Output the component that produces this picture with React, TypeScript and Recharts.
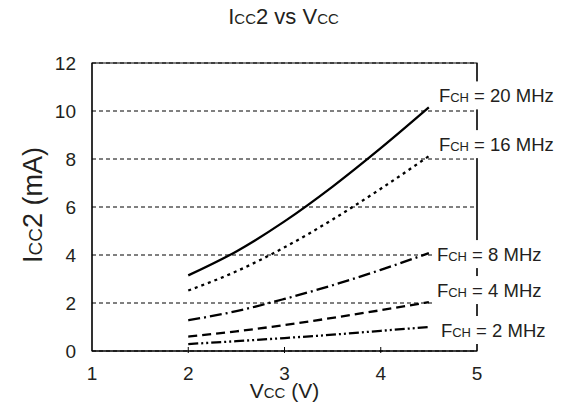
import React from "react";
import {
  LineChart,
  Line,
  XAxis,
  YAxis,
  CartesianGrid,
  ReferenceArea,
} from "recharts";

const vcc = [2, 2.5, 3, 3.5, 4, 4.5];
const f20 = [3.15, 4.15, 5.4, 6.85, 8.45, 10.15];
const f16 = [2.52, 3.32, 4.32, 5.48, 6.76, 8.12];
const f8 = [1.28, 1.66, 2.17, 2.74, 3.38, 4.08];
const f4 = [0.6, 0.82, 1.08, 1.38, 1.7, 2.04];
const f2 = [0.29, 0.41, 0.54, 0.68, 0.84, 1.0];
const freqLabels = ["20 MHz", "16 MHz", "8 MHz", "4 MHz", "2 MHz"];
const xTicks = [1, 2, 3, 4, 5];
const yTicks = [0, 2, 4, 6, 8, 10, 12];

const data = vcc.map((v, i) => ({
  v,
  f20: f20[i],
  f16: f16[i],
  f8: f8[i],
  f4: f4[i],
  f2: f2[i],
}));

const FONT = '"Liberation Sans", Arial, Helvetica, sans-serif';
const INK = "#231f20";

const series = [
  { key: "f20", dash: undefined, dx: 10, dy: -12 },
  { key: "f16", dash: "3 4", dx: 10, dy: -12 },
  { key: "f8", dash: "12 4 2 4", dx: 8, dy: 1 },
  { key: "f4", dash: "9 5", dx: 8, dy: -12 },
  { key: "f2", dash: "10 3 2 3 2 3", dx: 12, dy: 3 },
];

const makeEndLabel = (text: string, dx: number, dy: number) => (props: any) => {
  const { x, y, index } = props;
  if (index !== vcc.length - 1) return null;
  const sx = x + dx;
  const cy = y + dy;
  return (
    <g>
      <rect x={sx - 3} y={cy - 14} width={132} height={28} fill="#fff" />
      <text x={sx} y={cy + 7} fontFamily={FONT} fontSize={18.5} fill={INK}>
        F<tspan fontSize={13}>CH</tspan> = {text}
      </text>
    </g>
  );
};

const XTick = (props: any) => {
  const { x, y, payload } = props;
  const inner = payload.value > 1 && payload.value < 5;
  return (
    <g>
      {inner && <line x1={x} y1={y} x2={x} y2={y - 6} stroke="#000" strokeWidth={1} />}
      <text x={x} y={y + 27} textAnchor="middle" fontFamily={FONT} fontSize={19} fill={INK}>
        {payload.value}
      </text>
    </g>
  );
};

export default function App() {
  return (
    <div style={{ position: "absolute", left: 0, top: 0, width: 567, height: 417, background: "#fff" }}>
      <div
        style={{
          position: "absolute",
          left: 0,
          top: 4,
          width: 567,
          textAlign: "center",
          fontFamily: FONT,
          fontSize: 22,
          color: INK,
        }}
      >
        I<span style={{ fontSize: 15 }}>CC</span>2 vs V<span style={{ fontSize: 15 }}>CC</span>
      </div>
      <LineChart
        width={567}
        height={417}
        data={data}
        margin={{ top: 63, right: 60, left: 0, bottom: 0 }}
      >
        <CartesianGrid
          vertical={false}
          stroke="#000"
          strokeWidth={1}
          strokeDasharray="4 3"
        />
        <ReferenceArea
          x1={1}
          x2={5}
          y1={0}
          y2={12}
          fill="none"
          stroke="#000"
          strokeWidth={1.2}
          ifOverflow="visible"
        />
        <XAxis
          dataKey="v"
          type="number"
          domain={[1, 5]}
          ticks={xTicks}
          height={66}
          stroke="#000"
          tickLine={false}
          tickSize={0}
          tick={<XTick />}
          label={{
            content: (p: any) => {
              const vb = p.viewBox;
              return (
                <text
                  x={vb.x + vb.width / 2}
                  y={vb.y + 47}
                  textAnchor="middle"
                  fontFamily={FONT}
                  fontSize={21}
                  fill={INK}
                >
                  V<tspan fontSize={15}>CC</tspan> (V)
                </text>
              );
            },
          }}
        />
        <YAxis
          type="number"
          domain={[0, 12]}
          ticks={yTicks}
          width={92}
          stroke="#000"
          tickLine={false}
          tickSize={0}
          tickMargin={16}
          tick={{ fontFamily: FONT, fontSize: 19, fill: INK }}
          label={{
            content: (p: any) => {
              const vb = p.viewBox;
              const cx = 42;
              const cy = vb.y + vb.height / 2 - 2;
              return (
                <text
                  x={cx}
                  y={cy}
                  textAnchor="middle"
                  transform={`rotate(-90 ${cx} ${cy})`}
                  fontFamily={FONT}
                  fontSize={27}
                  fill={INK}
                >
                  I<tspan fontSize={19}>CC</tspan>2 (mA)
                </text>
              );
            },
          }}
        />
        {/* right frame edge */}
        <YAxis
          yAxisId="r"
          orientation="right"
          type="number"
          domain={[0, 12]}
          ticks={yTicks}
          width={30}
          stroke="#000"
          tickLine={false}
          tickFormatter={() => ""}
        />
        {series.map((s, i) => (
          <Line
            key={s.key}
            type="monotone"
            dataKey={s.key}
            stroke="#000"
            strokeWidth={2.3}
            strokeDasharray={s.dash}
            dot={false}
            isAnimationActive={false}
            label={makeEndLabel(freqLabels[i], s.dx, s.dy)}
          />
        ))}
      </LineChart>
    </div>
  );
}
